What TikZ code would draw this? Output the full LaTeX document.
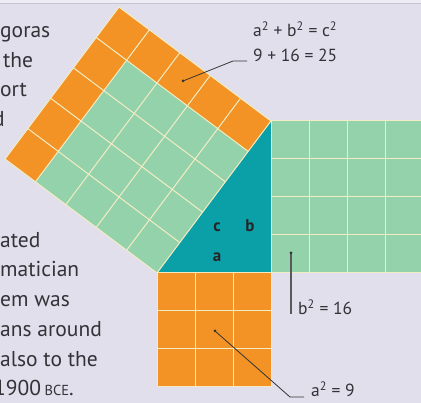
\documentclass[tikz,border=0pt]{standalone}
\usepackage{fontspec}
\setmainfont{PT Sans}
\usetikzlibrary{calc}

\definecolor{pagebg}{HTML}{E2DFEC}
\definecolor{sqorange}{HTML}{F39325}
\definecolor{sqgreen}{HTML}{93D2AA}
\definecolor{triteal}{HTML}{0B9FA7}
\definecolor{gridcream}{HTML}{F2ECC4}
\definecolor{inkgrey}{HTML}{333237}

\begin{document}
\begin{tikzpicture}[x=1pt, y=-1pt,
  gridln/.style={draw=gridcream, line width=1pt},
  pagetxt/.style={anchor=base west, inner sep=0pt, text=inkgrey, font=\fontsize{21.5}{21.5}\selectfont},
  note/.style={anchor=base west, inner sep=0pt, text=inkgrey, font=\fontsize{17.5}{17.5}\selectfont},
  sidelbl/.style={inner sep=0pt, text=black!85, font=\fontsize{17}{17}\selectfont\bfseries},
  leader/.style={draw=black!80, line width=0.8pt},
  pin/.style={fill=black!80}]

  \useasboundingbox (0,0) rectangle (421,403);
  \clip (0,0) rectangle (421,403);
  \fill[pagebg] (0,0) rectangle (421,403);
  \fill[pagebg!60!white] (0,0) rectangle (421,3);
  \draw[pagebg!88!black, line width=0.8pt] (0,3) -- (421,3);

  % running text of the page (cut off at the left)
  \node[pagetxt] (t1) at (0,38) {goras};
  \node[pagetxt] (t2) at (3,68) {the};
  \node[pagetxt] (t3) at (0,97) {ort};
  \node[pagetxt] (t4) at (-7,127) {d};
  \node[pagetxt] (t5) at (0,248) {ated};
  \node[pagetxt] (t6) at (0,277) {matician};
  \node[pagetxt] (t7) at (0,307) {em was};
  \node[pagetxt] (t8) at (0,337) {ans around};
  \node[pagetxt] (t9) at (0,367) {also to the};
  \node[pagetxt] (t10) at (-6,396) {1900\,{\fontsize{14.5}{14.5}\selectfont BCE}.};

  % corners of the right triangle
  \coordinate (R) at (271,273);
  \coordinate (T) at (271,121);
  \coordinate (L) at (157,273);

  \fill[triteal] (L) -- (R) -- (T) -- cycle;

  % square on b (4 x 4)
  \begin{scope}[shift={(T)}, scale=38]
    \fill[sqgreen] (0,0) rectangle (4,4);
    \foreach \i in {0,...,4} {
      \draw[gridln] (\i,0) -- (\i,4);
      \draw[gridln] (0,\i) -- (4,\i);
    }
  \end{scope}

  % square on a (3 x 3)
  \begin{scope}[shift={(L)}, scale=38]
    \fill[sqorange] (0,0) rectangle (3,3);
    \foreach \i in {0,...,3} {
      \draw[gridln] (\i,0) -- (\i,3);
      \draw[gridln] (0,\i) -- (3,\i);
    }
  \end{scope}

  % square on c (5 x 5): 16 green + 9 orange
  \begin{scope}[shift={(L)}, rotate=53.13, scale=38, yscale=-1]
    \fill[sqgreen] (0,0) rectangle (5,5);
    \fill[sqorange] (4,0) rectangle (5,5);
    \fill[sqorange] (0,4) rectangle (4,5);
    \foreach \i in {0,...,5} {
      \draw[gridln] (\i,0) -- (\i,5);
      \draw[gridln] (0,\i) -- (5,\i);
    }
  \end{scope}

  % side names
  \node[sidelbl] (lc) at (217,227) {c};
  \node[sidelbl] (lb) at (250,226) {b};
  \node[sidelbl] (la) at (217,257) {a};

  % c^2 callout
  \node[note] (csum) at (253,37) {a\textsuperscript{2} + b\textsuperscript{2} = c\textsuperscript{2}};
  \node[note] (cnum) at (253,62) {9 + 16 = 25};
  \coordinate (cdot) at (183,81);
  \coordinate (cbend) at (233,61);
  \coordinate (cend) at (247,61);
  \draw[leader] (cdot) -- (cbend) -- (cend);
  \fill[pin] (cdot) circle (1.5);

  % b^2 callout
  \node[note] (bnum) at (298,315) {b\textsuperscript{2} = 16};
  \coordinate (bdot) at (291,253);
  \coordinate (bend) at (291,314);
  \draw[draw=black!65, line width=1.4pt] (bdot) -- (bend);
  \fill[pin] (bdot) circle (1.5);

  % a^2 callout
  \node[note] (anum) at (311,397) {a\textsuperscript{2} = 9};
  \coordinate (adot) at (215,331);
  \coordinate (abend) at (290,397);
  \coordinate (aend) at (304,397);
  \draw[leader] (adot) -- (abend) -- (aend);
  \fill[pin] (adot) circle (1.5);
\end{tikzpicture}
\end{document}
